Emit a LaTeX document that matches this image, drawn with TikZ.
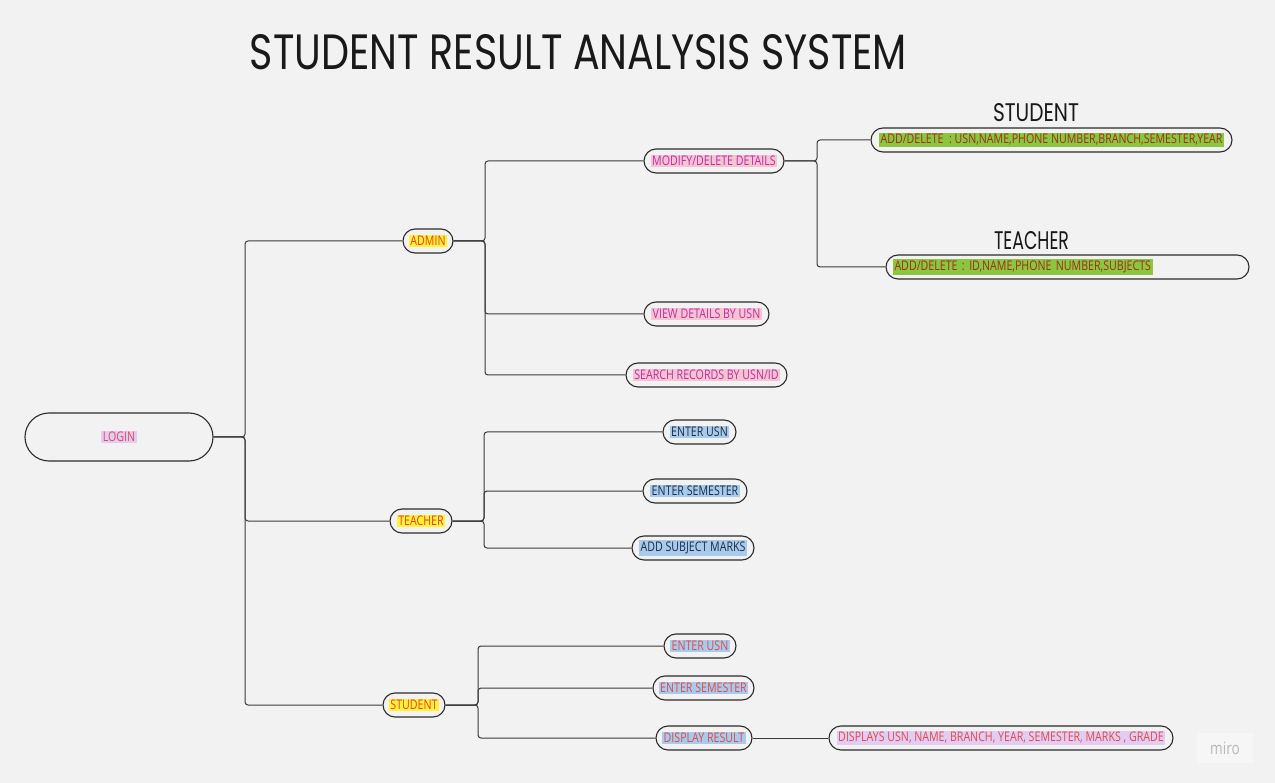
\documentclass[tikz,border=0pt]{standalone}
\usepackage{graphicx}
\usepackage{fontspec}
\setmainfont{Open Sans}[FakeStretch=0.8]
\newfontfamily\titlefont{Poppins}
\definecolor{bg}{HTML}{F2F2F2}
\definecolor{linecol}{HTML}{3A3A3A}
\definecolor{nodeborder}{HTML}{2B2B2B}
\definecolor{pinkhl}{HTML}{F3C5D3}
\definecolor{pinktx}{HTML}{C42AA0}
\definecolor{yelhl}{HTML}{FFF23A}
\definecolor{yeltx}{HTML}{E8401C}
\definecolor{lavhl}{HTML}{E2CCF2}
\definecolor{lavtx}{HTML}{E24A5E}
\definecolor{grnhl}{HTML}{8CC63F}
\definecolor{grntx}{HTML}{9B2F1D}
\definecolor{bluhl}{HTML}{A8CBEC}
\definecolor{blutx}{HTML}{1D2B4A}
\definecolor{redtx}{HTML}{E04B4B}
\definecolor{mirotx}{HTML}{B8B8B8}
\definecolor{mirobg}{HTML}{F6F6F6}
\newcommand{\hlt}[3]{{\setlength{\fboxsep}{1.5pt}\colorbox{#1}{\color{#2}#3}}}
\begin{document}
\begin{tikzpicture}[x=1pt,y=-1pt,
  font=\fontsize{13.3}{16}\selectfont,
  pill/.style={draw=nodeborder, line width=1.1pt, rounded corners=12pt,
    minimum height=24pt, inner sep=0pt, fill=bg},
  conn/.style={draw=linecol, line width=1pt, rounded corners=3pt},
  hand/.style={inner sep=0pt, text=black!90}]
\fill[bg] (0,0) rectangle (1275,783);
\useasboundingbox (0,0) rectangle (1275,783);

% title
\node[hand] (title) at (578.5,52.5) {\titlefont\resizebox{657pt}{35pt}{STUDENT RESULT ANALYSIS SYSTEM}};

% nodes
\node[pill, minimum width=188pt, minimum height=48pt, rounded corners=24pt] (login) at (119,437) {\hlt{lavhl}{lavtx}{LOGIN}};
\node[pill, minimum width=50pt] (admin) at (428,241) {\hlt{yelhl}{yeltx}{ADMIN}};
\node[pill, minimum width=62pt] (teacher) at (421,521) {\hlt{yelhl}{yeltx}{TEACHER}};
\node[pill, minimum width=62pt] (student) at (414,705) {\hlt{yelhl}{yeltx}{STUDENT}};

\node[pill, minimum width=140pt] (mod) at (714,161) {\hlt{pinkhl}{pinktx}{MODIFY/DELETE DETAILS}};
\node[pill, minimum width=125pt] (view) at (706.5,314) {\hlt{pinkhl}{pinktx}{VIEW DETAILS BY USN}};
\node[pill, minimum width=161pt] (search) at (706.5,375) {\hlt{pinkhl}{pinktx}{SEARCH RECORDS BY USN/ID}};

\node[pill, minimum width=361pt] (sdet) at (1051.5,140) {\hlt{grnhl}{grntx}{ADD/DELETE \ : USN,NAME,PHONE NUMBER,BRANCH,SEMESTER,YEAR}};
\node[pill, text width=349pt, align=left, inner xsep=7pt] (tdet) at (1067.5,267) {\hlt{grnhl}{grntx}{ADD/DELETE : ID,NAME,PHONE NUMBER,SUBJECTS}};
\node[hand] (lstud) at (1036,113) {\titlefont\resizebox{86pt}{18pt}{STUDENT}};
\node[hand] (lteach) at (1031.5,241) {\titlefont\resizebox{75pt}{18pt}{TEACHER}};

\node[pill, minimum width=73pt] (tusn) at (699.5,432) {\hlt{bluhl}{blutx}{ENTER USN}};
\node[pill, minimum width=104pt] (tsem) at (695,491) {\hlt{bluhl}{blutx}{ENTER SEMESTER}};
\node[pill, minimum width=122pt] (tmarks) at (693,548) {\hlt{bluhl}{blutx}{ADD SUBJECT MARKS}};

\node[pill, minimum width=72pt] (susn) at (700,646) {\hlt{bluhl}{redtx}{ENTER USN}};
\node[pill, minimum width=101pt] (ssem) at (703.5,688) {\hlt{bluhl}{redtx}{ENTER SEMESTER}};
\node[pill, minimum width=96pt] (sres) at (704,738) {\hlt{bluhl}{redtx}{DISPLAY RESULT}};
\node[pill, minimum width=344pt] (sdisp) at (1001,738) {\hlt{lavhl}{redtx}{DISPLAYS USN, NAME, BRANCH, YEAR, SEMESTER, MARKS , GRADE}};

\node[fill=mirobg, minimum width=56pt, minimum height=30pt, inner sep=0pt, font=\fontsize{17}{19}\selectfont, text=mirotx] (miro) at (1225,748) {miro};

% junctions
\coordinate (jL) at (245,437);
\coordinate (jA) at (485,241);
\coordinate (jM) at (817,161);
\coordinate (jT) at (484,521);
\coordinate (jS) at (478,705);

% connectors
\draw[conn] (login.east) -- (jL) |- (admin.west);
\draw[conn] (login.east) -- (jL) |- (teacher.west);
\draw[conn] (login.east) -- (jL) |- (student.west);

\draw[conn] (admin.east) -- (jA) |- (mod.west);
\draw[conn] (admin.east) -- (jA) |- (view.west);
\draw[conn] (admin.east) -- (jA) |- (search.west);

\draw[conn] (mod.east) -- (jM) |- (sdet.west);
\draw[conn] (mod.east) -- (jM) |- (tdet.west);

\draw[conn] (teacher.east) -- (jT) |- (tusn.west);
\draw[conn] (teacher.east) -- (jT) |- (tsem.west);
\draw[conn] (teacher.east) -- (jT) |- (tmarks.west);

\draw[conn] (student.east) -- (jS) |- (susn.west);
\draw[conn] (student.east) -- (jS) |- (ssem.west);
\draw[conn] (student.east) -- (jS) |- (sres.west);

\draw[conn] (sres.east) -- (sdisp.west);
\end{tikzpicture}
\end{document}
